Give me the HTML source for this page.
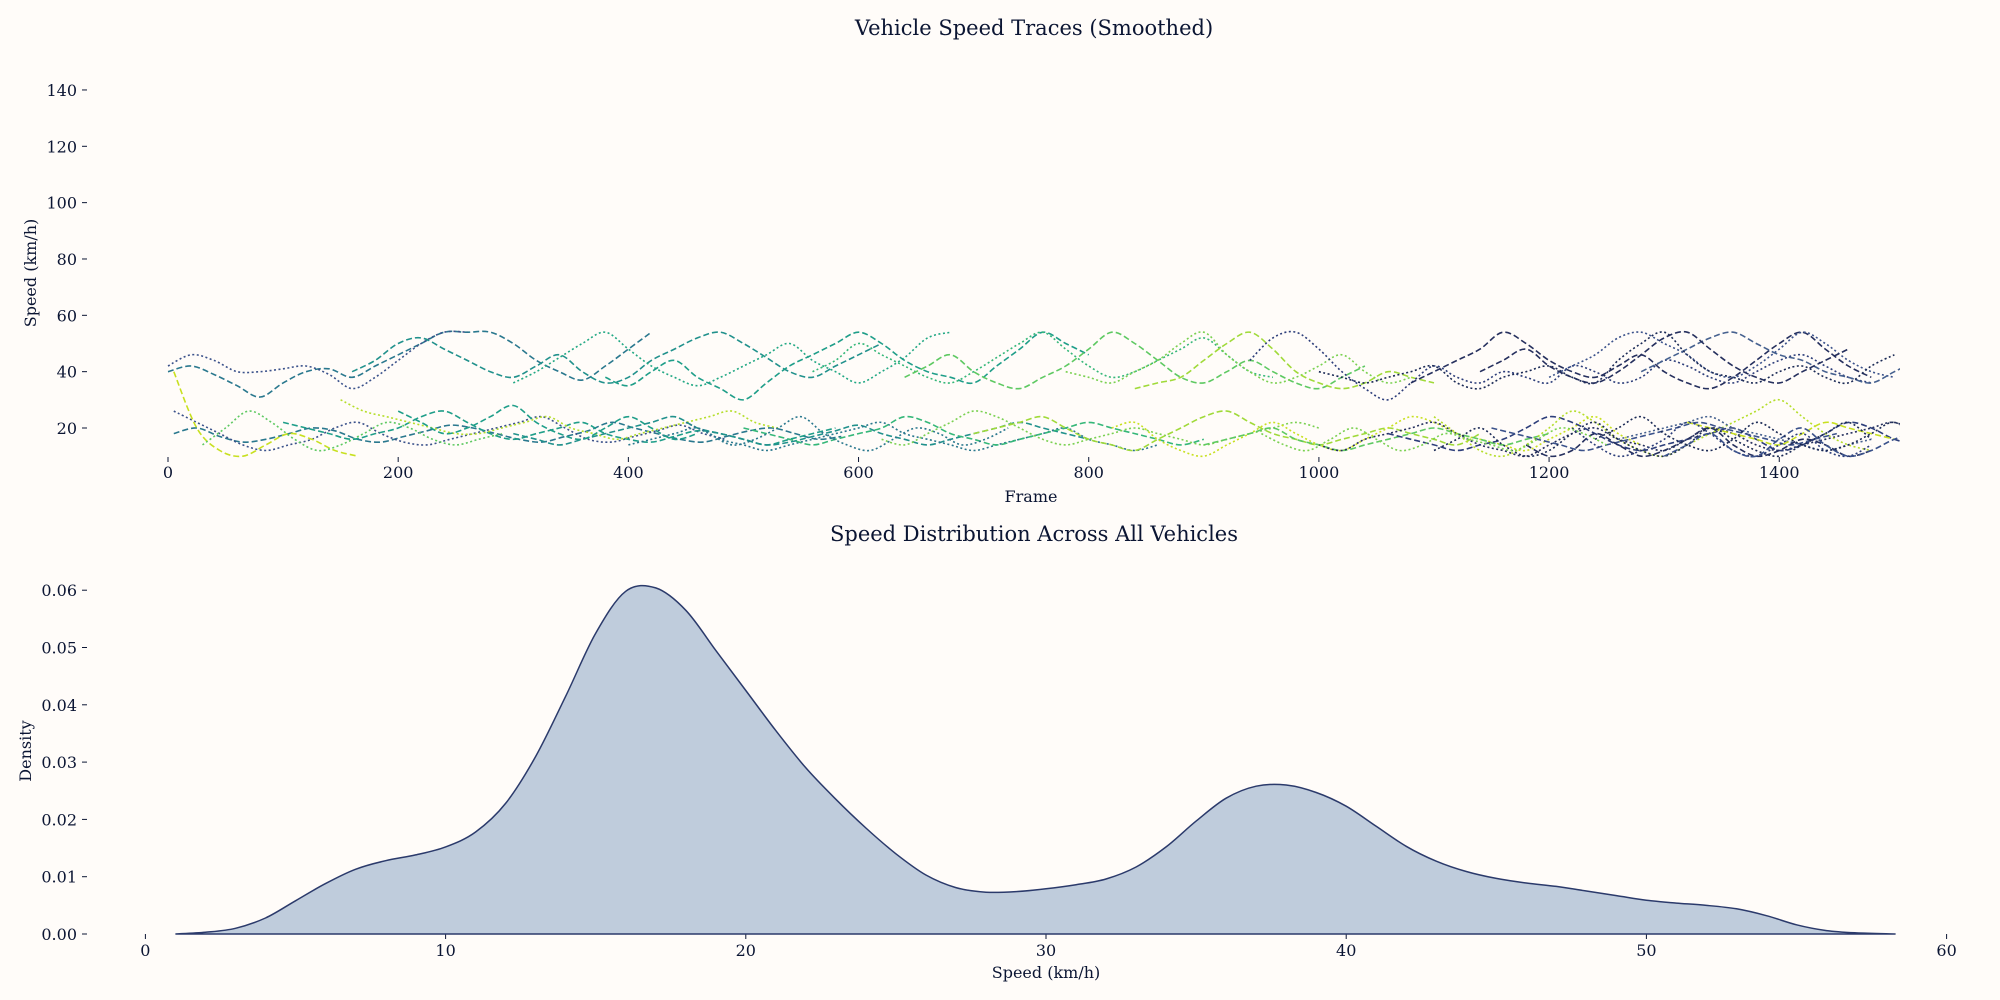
<!DOCTYPE html>
<html><head><meta charset="utf-8"><style>
body{margin:0;background:#fffcf9;}
svg{display:block;font-family:"DejaVu Serif","Liberation Serif",serif;}
</style></head><body>
<svg id="chart" width="2000" height="1000" viewBox="0 0 2000 1000">
<rect width="2000" height="1000" fill="#fffcf9"/>
<defs><clipPath id="tc"><rect x="160" y="80" width="1740" height="380"/></clipPath></defs>
<text x="1034" y="35" text-anchor="middle" font-size="21" fill="#0b1533">Vehicle Speed Traces (Smoothed)</text>
<text x="1034" y="541" text-anchor="middle" font-size="21" fill="#0b1533">Speed Distribution Across All Vehicles</text>
<text transform="translate(36,273) rotate(-90)" text-anchor="middle" font-size="16" fill="#0b1533">Speed (km/h)</text>
<text x="1031" y="502" text-anchor="middle" font-size="16" fill="#0b1533">Frame</text>
<text transform="translate(31,751) rotate(-90)" text-anchor="middle" font-size="16" fill="#0b1533">Density</text>
<text x="1046" y="978" text-anchor="middle" font-size="16" fill="#0b1533">Speed (km/h)</text>
<g id="topAxes"></g><g id="traces" clip-path="url(#tc)"></g>
<g id="botAxes"></g><g id="kde"></g>
</svg>
<script>
const frameTicks=[0,200,400,600,800,1000,1200,1400];
const speedTicks=[20,40,60,80,100,120,140];
const densTicks=[0,0.01,0.02,0.03,0.04,0.05,0.06];
const densTickLabels=["0.00","0.01","0.02","0.03","0.04","0.05","0.06"];
const speedXTicks=[0,10,20,30,40,50,60];
const traceStarts=[0,0,160,300,380,560,640,780,840,940,1080,1200,1280,1000,5,5,5,30,100,150,300,400,500,620,700,820,900,1000,1060,1100,1150,1260,1320,
1100,1180,1220,1300,950,200,450,1140,1240];
const traceValues=[
[40,42,39,35,31,36,40,41,38,42,46,50,54,54,54,50,44,40,37,42,48,54],
[42,46,44,40,40,41,42,39,34,38,44,50,54,54],
[40,44,50,52,48,44,40,38,42,46,40,36,38,44,48,52,54,50,45,40,38,42,46,50],
[36,40,45,50,54,48,42,38,35,38,42,46,50,44,40,36,40,45,52,54],
[38,35,40,44,38,34,30,36,42,46,50,54,50,44,40,38,36,42,48,54,50,46],
[40,44,50,46,42,38,36,40,45,50,54,48,42,38,40,44,48,52,46,40,38],
[38,42,46,40,36,34,38,42,48,54,50,44,38,36,40,44,40,36,34,38,42],
[40,38,36,40,44,50,54,46,40,36,38,42,46,40,36,38],
[34,36,38,44,50,54,48,40,36,34,36,40,38,36],
[44,52,54,48,40,34,30,36,42,38,36,40,38,36,42,40,36,38,44,42,38,36,40,44,46,42,38,36],
[36,40,44,48,54,50,44,40,38,42,46,40,36,34,38,44,50,54,48,42,38],
[38,42,46,52,54,50,46,40,38,42,48,54,50,44,40,38],
[40,44,48,52,54,50,46,44,40,38,36,40,44],
[40,38,36,38,40,42,36,34,38,40,42,38,36,44,50,54,46,40,38,36,40,42,38,36,42,46],
[18,20,17,15,16,18,20,19,16,15,17,19,21,20,18,16,15,17,19,22,20,18,16,15,17,19,20,18,16,17],
[26,22,18,14,12,14,16,20,22,18,15,14,16,18,20,22,24,20,16,15,17,19,21,18,16],
[40,20,12,10,14,18,16,12,10],
[14,20,26,22,16,12,14,18,22,20,16,14,16,18],
[22,20,18,16,18,20,24,26,22,18,16,18,20,22,18,16,15,17,19,18,16,14,16,18,20],
[30,26,24,22,20,18,18,20,22,24,20,18,16,18,20,22,24,26,22,20],
[18,16,14,16,18,20,22,24,20,18,16,14,15,17,19,21,18,16,14,16,18,20,22,20,18,16],
[14,16,18,20,16,14,12,14,16,18,20,22,18,16,14,12,14,16,18,20,16,14,12,14],
[20,18,16,14,16,18,20,24,22,18,16,14,16,18,20,22,20,18,16,14,16],
[16,14,18,22,26,24,20,16,14,16,18,20,18,16,14,16,18,20,22,20],
[18,20,22,24,20,16,14,12,16,20,24,26,22,18,16,14,16,18,20,18,16,14,18],
[20,22,16,12,10,14,18,22,18,14,12,16,20,24,22,18,16,14,12,16,20,24,18,14],
[14,16,18,20,16,14,12,14,16,18,20,18,16,14,16,18],
[14,12,16,18,20,22,18,14,12,10,14,18,20,16,14,12,16,20,18,14,12,14,16,18,20,22,18,16],
[18,16,14,12,14,16,20,24,22,18,14,12,14,16,18,20,16,12,14,18,22,20,16,14],
[24,18,12,10,14,20,26,22,16,12,10,14,18,22,26,30,24,18,14,12],
[20,18,16,14,12,14,16,18,20,22,20,18,16,14,16,18],
[16,18,20,22,24,20,18,16,14,12,14,16],
[22,20,18,16,14,18,22,20,18,16],
[12,16,20,14,10,12,18,22,16,12,10,14,20,16,12,10,14,18,22,16],
[14,10,12,18,14,10,12,16,20,14,10,12,16,14,10,12],
[20,14,10,12,16,22,18,12,10,14,18,12,10,14],
[10,14,18,12,10,16,20,14,10,12,16,18,12,10],
[18,14,12,16,20,16,12,14,18,16,14,12,16,20,18,14],
[26,22,18,20,24,28,22,18,16,20,24,20,16,18],
[22,18,14,16,20,24,18,14,12,16,20,18,14,16,20],
[40,44,48,42,38,36,40,46,52,54,48,42,38,36,40,44,48],
[16,20,24,18,14,12,16,22,18,14,12,14,18,22,16,12]];
const traceColors=["#2a788e","#3b528b","#21918c","#22a884","#1f9e89","#35b779","#5ec962","#7ad151","#a0da39","#2d3e7a","#26305e","#3b528b","#46618f","#1b2a55","#2a788e","#3b528b","#c8e020","#5ec962","#1f9e89","#b5de2b","#21918c","#2a788e","#35b779","#7ad151","#a0da39","#c8e020","#5ec962","#26305e","#2d3e7a","#b5de2b","#3b528b","#46618f","#c8e020",
"#1b2a55","#26305e","#2d3e7a","#3b528b","#7ad151","#1f9e89","#2a788e","#26305e","#1b2a55"];
const kdeSpeeds=[1,2,3,4,5,6,7,8,9,10,11,12,13,14,15,16,17,18,19,20,21,22,23,24,25,26,27,28,29,30,31,32,33,34,35,36,37,38,39,40,41,42,43,44,45,46,47,48,49,50,51,52,53,54,55,56,57,58.3];
const kdeDensity=[0,0.0003,0.001,0.0028,0.0058,0.0088,0.0113,0.0128,0.0138,0.0152,0.0178,0.0228,0.031,0.0415,0.0525,0.0598,0.0604,0.0565,0.0495,0.0425,0.0355,0.029,0.0235,0.0185,0.014,0.0103,0.0081,0.0073,0.0074,0.0079,0.0086,0.0096,0.0117,0.0152,0.0197,0.0237,0.0258,0.026,0.0247,0.0223,0.0188,0.0153,0.0127,0.0109,0.0097,0.0089,0.0083,0.0075,0.0067,0.0059,0.0054,0.005,0.0044,0.0032,0.0016,0.0006,0.0002,0];
const STEP=20;
const NS="http://www.w3.org/2000/svg";
const fx=f=>168+f*1.1509, fy=v=>428-(v-20)*2.817;
const sx=s=>145.4+s*30.02, sy=d=>934-d*5730;
function mk(tag,attrs,parent){const e=document.createElementNS(NS,tag);for(const k in attrs)e.setAttribute(k,attrs[k]);parent.appendChild(e);return e;}
function cr(pts){let d="M"+pts[0][0].toFixed(1)+","+pts[0][1].toFixed(1);
for(let i=0;i<pts.length-1;i++){const p0=pts[i-1]||pts[i],p1=pts[i],p2=pts[i+1],p3=pts[i+2]||p2;
d+="C"+(p1[0]+(p2[0]-p0[0])/6).toFixed(1)+","+(p1[1]+(p2[1]-p0[1])/6).toFixed(1)+" "+(p2[0]-(p3[0]-p1[0])/6).toFixed(1)+","+(p2[1]-(p3[1]-p1[1])/6).toFixed(1)+" "+p2[0].toFixed(1)+","+p2[1].toFixed(1);}
return d;}
const ta=document.getElementById('topAxes'),tr=document.getElementById('traces'),ba=document.getElementById('botAxes'),kg=document.getElementById('kde');
frameTicks.forEach(f=>{
const l=mk('line',{x1:fx(f),x2:fx(f),y1:457,y2:462,stroke:'#0b1533','stroke-width':1},ta);


const t=mk('text',{x:fx(f),y:478,'text-anchor':'middle','font-size':16,fill:'#0b1533'},ta);t.textContent=f;

});
speedTicks.forEach(v=>{
const l=mk('line',{x1:82,x2:87,y1:fy(v),y2:fy(v),stroke:'#0b1533','stroke-width':1},ta);


const t=mk('text',{x:77,y:fy(v)+6,'text-anchor':'end','font-size':16,fill:'#0b1533'},ta);t.textContent=v;

});
traceValues.forEach((vals,i)=>{
const pts=vals.map((v,j)=>[fx(traceStarts[i]+j*STEP),fy(Math.max(10,Math.min(54,v)))]);
const p=mk('path',{d:cr(pts),fill:'none',stroke:traceColors[i],'stroke-width':1.6,'stroke-dasharray':(i%2?'2,2.5':'6,3')},tr);

});
densTicks.forEach((d,i)=>{
const l=mk('line',{x1:82,x2:87,y1:sy(d),y2:sy(d),stroke:'#0b1533','stroke-width':1},ba);


const t=mk('text',{x:77,y:sy(d)+6,'text-anchor':'end','font-size':16,fill:'#0b1533'},ba);t.textContent=densTickLabels[i];

});
speedXTicks.forEach(s=>{
const l=mk('line',{x1:sx(s),x2:sx(s),y1:934,y2:939,stroke:'#0b1533','stroke-width':1},ba);


const t=mk('text',{x:sx(s),y:956,'text-anchor':'middle','font-size':16,fill:'#0b1533'},ba);t.textContent=s;

});
const kp=kdeSpeeds.map((s,i)=>[sx(s),sy(kdeDensity[i])]);
const line=cr(kp);
const area=mk('path',{d:line+"L"+kp[kp.length-1][0].toFixed(1)+","+sy(0)+"L"+kp[0][0].toFixed(1)+","+sy(0)+"Z",fill:'#bfccdc',stroke:'none'},kg);


const ln=mk('path',{d:line+"L"+kp[0][0].toFixed(1)+","+sy(0)+"Z",fill:'none',stroke:'#2b3a6b','stroke-width':1.5},kg);


</script>
</body></html>
